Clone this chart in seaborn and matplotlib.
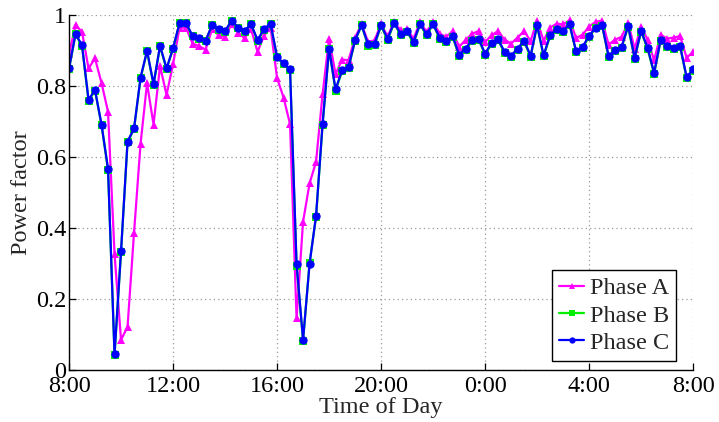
import numpy as np
import pandas as pd
import matplotlib
matplotlib.use("Agg")
import matplotlib.pyplot as plt
import seaborn as sns

# Power factor sampled every 15 minutes, 8:00 to 8:00 the next day (97 samples)
phase_a = [0.890, 0.972, 0.953, 0.850, 0.878, 0.809, 0.728, 0.327, 0.085, 0.122,
           0.387, 0.637, 0.808, 0.692, 0.857, 0.775, 0.862, 0.965, 0.965, 0.920,
           0.913, 0.903, 0.960, 0.944, 0.939, 0.974, 0.951, 0.935, 0.961, 0.897,
           0.942, 0.965, 0.823, 0.768, 0.693, 0.146, 0.418, 0.526, 0.587, 0.777,
           0.934, 0.834, 0.875, 0.873, 0.937, 0.975, 0.925, 0.929, 0.976, 0.940,
           0.981, 0.958, 0.961, 0.934, 0.981, 0.953, 0.981, 0.948, 0.939, 0.955,
           0.911, 0.930, 0.948, 0.955, 0.924, 0.944, 0.955, 0.931, 0.920, 0.937,
           0.955, 0.927, 0.985, 0.928, 0.965, 0.976, 0.974, 0.986, 0.936, 0.945,
           0.968, 0.981, 0.985, 0.917, 0.931, 0.939, 0.979, 0.906, 0.967, 0.931,
           0.873, 0.945, 0.934, 0.937, 0.941, 0.880, 0.897]

phase_b = [0.848, 0.946, 0.913, 0.759, 0.787, 0.690, 0.564, 0.042, 0.333, 0.642,
           0.679, 0.822, 0.898, 0.804, 0.912, 0.848, 0.905, 0.977, 0.977, 0.940,
           0.934, 0.926, 0.971, 0.959, 0.953, 0.984, 0.963, 0.954, 0.974, 0.928,
           0.959, 0.975, 0.881, 0.862, 0.845, 0.294, 0.082, 0.303, 0.432, 0.691,
           0.904, 0.787, 0.842, 0.852, 0.928, 0.971, 0.914, 0.916, 0.970, 0.930,
           0.977, 0.945, 0.953, 0.921, 0.974, 0.943, 0.974, 0.934, 0.924, 0.939,
           0.885, 0.903, 0.927, 0.931, 0.889, 0.919, 0.929, 0.894, 0.882, 0.903,
           0.925, 0.883, 0.970, 0.884, 0.941, 0.958, 0.953, 0.972, 0.896, 0.908,
           0.939, 0.963, 0.970, 0.882, 0.898, 0.908, 0.968, 0.877, 0.954, 0.905,
           0.834, 0.928, 0.911, 0.905, 0.911, 0.823, 0.844]

phase_c = [0.850, 0.948, 0.915, 0.762, 0.789, 0.692, 0.567, 0.045, 0.335, 0.644,
           0.681, 0.824, 0.900, 0.806, 0.914, 0.850, 0.907, 0.978, 0.978, 0.942,
           0.936, 0.928, 0.972, 0.961, 0.955, 0.985, 0.965, 0.956, 0.975, 0.930,
           0.961, 0.976, 0.883, 0.864, 0.847, 0.299, 0.086, 0.299, 0.435, 0.693,
           0.906, 0.791, 0.845, 0.854, 0.930, 0.972, 0.918, 0.920, 0.972, 0.934,
           0.979, 0.948, 0.956, 0.925, 0.976, 0.946, 0.976, 0.937, 0.927, 0.942,
           0.889, 0.906, 0.930, 0.934, 0.892, 0.922, 0.932, 0.897, 0.886, 0.906,
           0.928, 0.886, 0.972, 0.887, 0.944, 0.960, 0.956, 0.974, 0.899, 0.911,
           0.942, 0.965, 0.972, 0.885, 0.901, 0.911, 0.970, 0.880, 0.956, 0.908,
           0.838, 0.930, 0.914, 0.908, 0.913, 0.826, 0.847]

tick_hours = [8, 12, 16, 20, 24, 28, 32]
tick_labels = ["8:00", "12:00", "16:00", "20:00", "0:00", "4:00", "8:00"]
y_ticks = [0, 0.2, 0.4, 0.6, 0.8, 1.0]
y_labels = ["0", "0.2", "0.4", "0.6", "0.8", "1"]

series_names = ["Phase A", "Phase B", "Phase C"]
hours = 8 + 0.25 * np.arange(len(phase_a))

df = pd.concat([
    pd.DataFrame({"hour": hours, "pf": vals, "phase": name})
    for name, vals in zip(series_names, [phase_a, phase_b, phase_c])
], ignore_index=True)

sns.set_theme(style="white")
plt.rcParams["font.family"] = ["Liberation Serif", "DejaVu Serif"]

fig = plt.figure(figsize=(7.19, 4.22), dpi=100)
ax = fig.add_axes([0.096, 0.123, 0.868, 0.841])

palette = {"Phase A": "#ff00ff", "Phase B": "#00ee00", "Phase C": "#0000ff"}
markers = {"Phase A": "^", "Phase B": "s", "Phase C": "o"}

sns.lineplot(data=df, x="hour", y="pf", hue="phase", style="phase",
             hue_order=series_names, style_order=series_names,
             palette=palette, markers=markers, dashes=False,
             linewidth=1.6, markersize=6, markeredgewidth=0,
             ax=ax, legend=True)

ax.set_xlim(8, 32)
ax.set_ylim(0, 1)
ax.set_xticks(tick_hours)
ax.set_xticklabels(tick_labels)
ax.set_yticks(y_ticks)
ax.set_yticklabels(y_labels)

ax.grid(True, linestyle=(0, (1, 2.5)), color="#999999", linewidth=0.9)
for side in ["top", "right"]:
    ax.spines[side].set_visible(False)
for side in ["left", "bottom"]:
    ax.spines[side].set_color("black")
    ax.spines[side].set_linewidth(1.0)

ax.tick_params(axis="both", direction="in", length=5, width=0.9,
               labelsize=17.5, colors="black", bottom=True, left=True)
ax.tick_params(axis="x", pad=4)
ax.tick_params(axis="y", pad=2)

ax.set_xlabel("Time of Day", fontsize=17.5, labelpad=0)
ax.set_ylabel("Power factor", fontsize=17.5, labelpad=3)

leg = ax.legend(loc="lower right", bbox_to_anchor=(0.973, 0.025),
                fontsize=17.5, frameon=True, fancybox=False,
                edgecolor="black", framealpha=1, handlelength=1.0,
                handletextpad=0.25, borderpad=0.3, labelspacing=0.22,
                markerscale=0.75, borderaxespad=0.0)
leg.get_frame().set_linewidth(1.0)

fig.savefig("out.png", dpi=100)
